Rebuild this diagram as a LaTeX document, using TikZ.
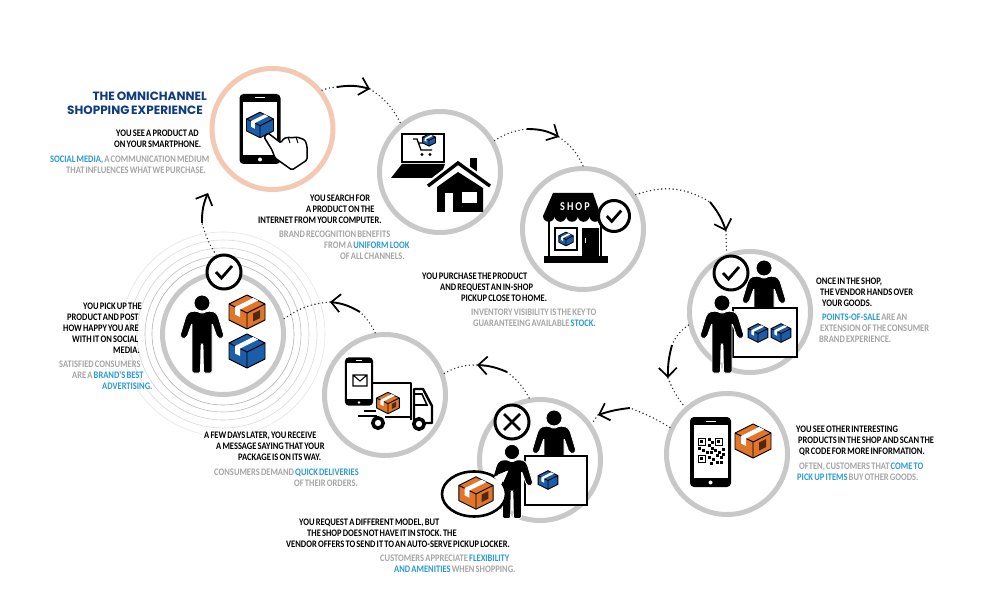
\documentclass[tikz,border=0pt]{standalone}
\usepackage{fontspec}
\usetikzlibrary{arrows.meta, positioning, shapes.geometric}
\newfontfamily\notefont[FakeStretch=0.85,WordSpace=0.6]{Carlito}
\newfontfamily\titlefont[WordSpace=0.7]{Poppins}
\definecolor{ringgray}{RGB}{200,200,200}
\definecolor{ringpink}{RGB}{243,201,180}
\definecolor{hintgray}{RGB}{165,165,165}
\definecolor{linkblue}{RGB}{43,155,209}
\definecolor{titlenavy}{RGB}{15,59,127}
\definecolor{boxblue}{RGB}{28,93,168}
\definecolor{boxorange}{RGB}{224,117,43}
\newcommand{\hl}[1]{\textcolor{linkblue}{#1}}

\begin{document}
\begin{tikzpicture}[
  x=1pt, y=-1pt,
  stage/.style={circle, draw=ringgray, fill=white, line width=5pt, minimum size=121pt, inner sep=0pt},
  badge/.style={circle, draw=black, fill=white, line width=3pt, minimum size=31pt, inner sep=0pt},
  halo/.style={line width=0.6pt},
  dotpath/.style={line width=1.6pt, line cap=round, dash pattern=on 0pt off 3.8pt, black!80},
  flow/.style={line width=1.9pt, -{Straight Barb[length=9pt, width=18pt, line width=1.7pt]}},
  note/.style={anchor=west, align=left, inner sep=0pt, font=\notefont\bfseries\fontsize{10}{11}\selectfont, text=black},
  hint/.style={note, text=hintgray},
  title/.style={anchor=east, align=right, inner sep=0pt, font=\titlefont\bfseries\fontsize{12}{14}\selectfont, text=titlenavy},
  pics/cardbox/.style={code={
    \draw[black, fill=#1, line width=0.9pt, line join=round] (0,-17)--(18,-8)--(18,8)--(0,17)--(-18,8)--(-18,-8)--cycle;
    \draw[black, line width=0.9pt] (-18,-8)--(0,1)--(18,-8) (0,1)--(0,17);
    \fill[white] (6,-14)--(11,-11.5)--(-7,-2.5)--(-7,5)--(-12,2.5)--(-12,-5)--cycle;
  }},
  pics/orangebox/.style={code={
    \pic[transform shape] {cardbox=boxorange};
    \fill[black!65!boxorange] (6,1.5)--(13,-2)--(13,6)--(6,9.5)--cycle;
  }},
  pics/phone/.style={code={
    \fill[black, rounded corners=4pt] (-20.5,-35) rectangle (20.5,35);
    \fill[white] (-17,-27) rectangle (17,26);
    \draw[white, line width=1pt] (-5,-31)--(5,-31);
    \fill[white] (0,30.5) circle[radius=2];
  }},
  pics/person/.style={code={
    \draw[white, fill=black, line width=0.8pt] (0,0) circle[radius=8];
    \draw[white, fill=black, line width=0.8pt, rounded corners=1.5pt] (-6,8)--(-13,9)--(-16,13)--(-22,33)--(-19,36)--(-15,34)--(-10,20)--(-10,70)--(-1.5,70)--(-1,41)--(1,41)--(1.5,70)--(10,70)--(10,20)--(15,34)--(19,36)--(22,33)--(16,13)--(13,9)--(6,8)--(0,10.5)--cycle;
  }},
  pics/tick/.style={code={
    \draw[black, line width=2.8pt] (-8,0)--(-2.5,6)--(8,-6);
  }},
  pics/cross/.style={code={
    \draw[black, line width=2.8pt] (-8,-8)--(8,8) (8,-8)--(-8,8);
  }}
]
  \useasboundingbox[fill=white] (0,0) rectangle (996,612);

  % Rings round the last stage
  \draw[halo, black!30] (223,334) circle[radius=71];
  \draw[halo, black!25] (223,334) circle[radius=78];
  \draw[halo, black!18] (223,334) circle[radius=86];
  \draw[halo, black!14] (223,334) circle[radius=94];
  \draw[halo, black!10] (223,334) circle[radius=102];

  % Stages
  \node[stage, draw=ringpink] (ad) at (272.5,129) {};
  \node[stage] (search) at (440,172) {};
  \node[stage] (purchase) at (583,229) {};
  \node[stage] (handover) at (750,312) {};
  \node[stage] (scan) at (727,454) {};
  \node[stage] (request) at (540,460) {};
  \node[stage] (delivery) at (385,395) {};
  \node[stage] (pickup) at (223,334) {};
  \node[badge, minimum size=34pt] (pickupcheck) at (224,272) {};

  % Arrow ends
  \coordinate (adtail) at (337,87);
  \coordinate (adhead) at (370,89);
  \coordinate (searchtail) at (527,129);
  \coordinate (searchhead) at (559,137);
  \coordinate (purchasetail) at (710,202);
  \coordinate (purchasehead) at (726,231);
  \coordinate (handovertail) at (672,345);
  \coordinate (handoverhead) at (668,378);
  \coordinate (scantail) at (630,408);
  \coordinate (scanhead) at (598,415);
  \coordinate (requesttail) at (507,372);
  \coordinate (requesthead) at (477,365);
  \coordinate (deliverytail) at (360,312);
  \coordinate (deliveryhead) at (330,302);
  \coordinate (pickuptail) at (202,223);
  \coordinate (pickuphead) at (208,193);

  % Dotted legs
  \draw[dotpath] (ad.38) to[bend left=8] (adtail);
  \draw[dotpath] (adhead) to[bend left=15] (search.129);
  \draw[dotpath] (search.30) to[bend left=12] (searchtail);
  \draw[dotpath] (searchhead) to[bend left=15] (purchase.90);
  \draw[dotpath] (purchase.33) to[bend left=25] (purchasetail);
  \draw[dotpath] (purchasehead) -- (handover.112);
  \draw[dotpath] (handover.192) to[bend right=15] (handovertail);
  \draw[dotpath] (handoverhead) to[bend right=8] (scan.132);
  \draw[dotpath] (scan.155) to[bend right=5] (scantail);
  \draw[dotpath] (scanhead) -- (request.35);
  \draw[dotpath] (request.100) to[bend right=12] (requesttail);
  \draw[dotpath] (requesthead) to[bend right=15] (delivery.20);
  \draw[dotpath] (delivery.99) to[bend right=10] (deliverytail);
  \draw[dotpath] (deliveryhead) to[bend right=15] (pickup.14);
  \draw[dotpath] (pickupcheck.115) to[bend left=8] (pickuptail);

  % Solid arrows
  \draw[flow] (adtail) to[bend left=12] (adhead);
  \draw[flow] (searchtail) to[bend left=14] (searchhead);
  \draw[flow] (purchasetail) to[bend left=10] (purchasehead);
  \draw[flow] (handovertail) to[bend right=8] (handoverhead);
  \draw[flow] (scantail) to[bend right=6] (scanhead);
  \draw[flow] (requesttail) to[bend right=10] (requesthead);
  \draw[flow] (deliverytail) to[bend right=12] (deliveryhead);
  \draw[flow] (pickuptail) to[bend left=12] (pickuphead);

  % Stage 1: phone with hand
  \pic at (260,129) {phone};
  \pic[scale=0.75] at (260,125) {cardbox=boxblue};
  \draw[black, fill=white, line width=1.5pt, line join=round, rounded corners=1.5pt] (264,137)--(268,133)--(281,143)--(283,139)--(288,137)--(291,138)--(296,137)--(300,138)--(305,140)--(307,146)--(307,160)--(292,170)--(275,158)--(272,150)--cycle;
  \draw[black, line width=1pt] (288,137)--(290,143) (296,137)--(298,143);

  % Stage 2: laptop and house
  \draw[black, fill=white, line width=2.6pt] (402,134) rectangle (444,162);
  \fill[black] (402,164)--(445,164)--(440,178)--(391,178)--cycle;
  \draw[black, line width=1.3pt] (413,139)--(417,139)--(421,150)--(432,150) (418,143)--(431,143);
  \fill[black] (422,154.5) circle[radius=1.6] (430,154.5) circle[radius=1.6];
  \pic[scale=0.36] at (429,140) {cardbox=boxblue};
  \fill[black] (470,158) rectangle (477,176);
  \draw[white, line width=8pt] (428,186)--(458,163)--(490,186);
  \draw[black, line width=3.4pt] (428,186)--(458,163)--(490,186);
  \fill[black] (437,187)--(458,172)--(483,188)--(483,212)--(437,212)--cycle;
  \fill[white] (445,193) rectangle (453,212);
  \fill[white] (462,192) rectangle (477,203);

  % Stage 3: shop
  \draw[black, line width=2.6pt] (549,216) rectangle (601,258);
  \fill[black] (553,193)--(593,193)--(601,216) arc[start angle=0, end angle=180, radius=5.8] arc[start angle=0, end angle=180, radius=5.8] arc[start angle=0, end angle=180, radius=5.8] arc[start angle=0, end angle=180, radius=5.8] arc[start angle=0, end angle=180, radius=5.8]--cycle;
  \node[inner sep=0pt, text=white, font=\notefont\bfseries\fontsize{12}{12}\selectfont] (shopsign) at (575,207) {S\,H\,O\,P};
  \draw[black, line width=1.6pt] (555,228) rectangle (577,250);
  \pic[scale=0.4] at (566,239) {cardbox=boxblue};
  \fill[black] (582,228) rectangle (599,256);
  \draw[white, line width=0.6pt] (585,238)--(585,243);
  \fill[black] (544,256) rectangle (608,263);
  \node[badge] (shopcheck) at (614,216) {};
  \pic[scale=0.9] at (shopcheck) {tick};

  % Stage 4: vendor hands over
  \pic at (764,268) {person};
  \draw[black, fill=white, line width=2.6pt] (733,308) rectangle (797,357);
  \pic[scale=0.55] at (758,333) {cardbox=boxblue};
  \pic[scale=0.55] at (781,333) {cardbox=boxblue};
  \pic at (722,303) {person};
  \node[badge, minimum size=34pt] (handovercheck) at (731,273) {};
  \pic at (handovercheck) {tick};

  % Stage 5: phone with QR code
  \pic at (710.5,452) {phone};
  \foreach \fx/\fy in {698/438, 715/438, 698/455}
    \draw[black, line width=1pt] (\fx,\fy) rectangle +(7,7);
  \foreach \bx/\by in {700/440, 717/440, 700/457, 708/438, 711/441, 708/444, 711/447, 698/447, 702/449, 706/451, 710/451, 714/449, 718/451, 722/448, 716/454, 720/456, 708/456, 712/458, 716/461, 720/461, 710/462, 722/453}
    \fill[black] (\bx,\by) rectangle +(2.6,2.6);
  \pic at (753,441) {orangebox};

  % Stage 6: out of stock
  \pic at (554,418) {person};
  \draw[black, fill=white, line width=2.6pt] (525,456) rectangle (587,505);
  \pic[scale=0.55] at (548,480) {cardbox=boxblue};
  \pic[scale=0.95] at (512,452) {person};
  \draw[black, fill=white, line width=2.4pt, line join=round] (496,474)--(511,468)--(503,486)--cycle;
  \node[ellipse, draw=black, fill=white, line width=2.6pt, minimum width=64pt, minimum height=45pt, inner sep=0pt] (bubble) at (474,494) {};
  \fill[white] (494,477)--(507,471)--(501,485)--cycle;
  \pic[scale=0.95] at (476,493) {orangebox};
  \node[badge, minimum size=34pt] (requestcross) at (512,422) {};
  \pic at (requestcross) {cross};

  % Stage 7: truck
  \draw[black, line width=2.4pt, line join=round] (372,383)--(411,383)--(411,420);
  \draw[black, line width=2.4pt, line join=round] (414,389)--(423,389)--(432,406)--(432,423)--(414,423)--cycle;
  \draw[black, line width=1.6pt] (414,394)--(422,394)--(427,405)--(414,405);
  \draw[black, line width=2.4pt] (358,416)--(377,416) (364,411)--(376,411) (385,417)--(411,417);
  \draw[black, fill=white, line width=3.6pt] (378,423) circle[radius=5.2] (419,424) circle[radius=5.2];
  \pic[scale=0.69] at (359,381.5) {phone};
  \draw[black, line width=1.1pt] (353,375) rectangle (367,386) (353,375)--(360,381)--(367,375);
  \pic[scale=0.63] at (388,403) {orangebox};

  % Stage 8: picked up
  \pic at (202,303) {person};
  \pic at (247,312) {orangebox};
  \pic at (247,351) {cardbox=boxblue};
  \pic at (pickupcheck) {tick};

  % Texts
  \node[title] (maintitle) at (207,103) {THE OMNICHANNEL\\SHOPPING EXPERIENCE\hspace*{4pt}};

  \node[note] (adnote) at (114,139) {\hspace*{2pt}YOU SEE A PRODUCT AD\\ON YOUR SMARTPHONE.};
  \node[hint] (adhint) at (50,164.5) {\hl{SOCIAL MEDIA,} A COMMUNICATION MEDIUM\\\hspace*{16pt}THAT INFLUENCES WHAT WE PURCHASE.};

  \node[note] (searchnote) at (258,209) {\hspace*{52pt}YOU SEARCH FOR\\\hspace*{48pt}A PRODUCT ON THE\\INTERNET FROM YOUR COMPUTER.};
  \node[hint] (searchhint) at (279,245) {BRAND RECOGNITION BENEFITS\\\hspace*{45pt}FROM A \hl{UNIFORM LOOK}\\\hspace*{61pt}OF ALL CHANNELS.};

  \node[note] (purchasenote) at (422,287.5) {YOU PURCHASE THE PRODUCT\\\hspace*{18pt}AND REQUEST AN IN-SHOP\\\hspace*{39pt}PICKUP CLOSE TO HOME.};
  \node[hint] (purchasehint) at (471,317.5) {INVENTORY VISIBILITY IS THE KEY TO\\\hspace*{2pt}GUARANTEEING AVAILABLE \hl{STOCK.}};

  \node[note] (handovernote) at (816,292.5) {ONCE IN THE SHOP,\\\hspace*{4pt}THE VENDOR HANDS OVER\\\hspace*{6pt}YOUR GOODS.};
  \node[hint] (handoverhint) at (819,328.5) {\hspace*{3pt}\hl{POINTS-OF-SALE} ARE AN\\\hspace*{1pt}EXTENSION OF THE CONSUMER\\BRAND EXPERIENCE.};

  \node[note] (scannote) at (796,440.5) {YOU SEE OTHER INTERESTING\\\hspace*{2pt}PRODUCTS IN THE SHOP AND SCAN THE\\\hspace*{3pt}QR CODE FOR MORE INFORMATION.};
  \node[hint] (scanhint) at (797,471.5) {\hspace*{2pt}OFTEN, CUSTOMERS THAT \hl{COME TO}\\\hl{PICK UP ITEMS} BUY OTHER GOODS.};

  \node[note] (requestnote) at (286,533) {\hspace*{13pt}YOU REQUEST A DIFFERENT MODEL, BUT\\\hspace*{21pt}THE SHOP DOES NOT HAVE IT IN STOCK. THE\\VENDOR OFFERS TO SEND IT TO AN AUTO-SERVE PICKUP LOCKER.};
  \node[hint] (requesthint) at (380,563.5) {CUSTOMERS APPRECIATE \hl{FLEXIBILITY}\\\hspace*{14pt}\hl{AND AMENITIES} WHEN SHOPPING.};

  \node[note] (deliverynote) at (204,446.5) {A FEW DAYS LATER, YOU RECEIVE\\\hspace*{12pt}A MESSAGE SAYING THAT YOUR\\\hspace*{34pt}PACKAGE IS ON ITS WAY.};
  \node[hint] (deliveryhint) at (214,478) {CONSUMERS DEMAND \hl{QUICK DELIVERIES}\\\hspace*{80pt}OF THEIR ORDERS.};

  \node[note] (pickupnote) at (63,328) {\hspace*{20pt}YOU PICK UP THE\\\hspace*{4pt}PRODUCT AND POST\\HOW HAPPY YOU ARE\\\hspace*{9pt}WITH IT ON SOCIAL\\\hspace*{50pt}MEDIA.};
  \node[hint] (pickuphint) at (59,375) {SATISFIED CONSUMERS\\\hspace*{13pt}ARE A \hl{BRAND'S BEST}\\\hspace*{43pt}\hl{ADVERTISING.}};
\end{tikzpicture}
\end{document}
